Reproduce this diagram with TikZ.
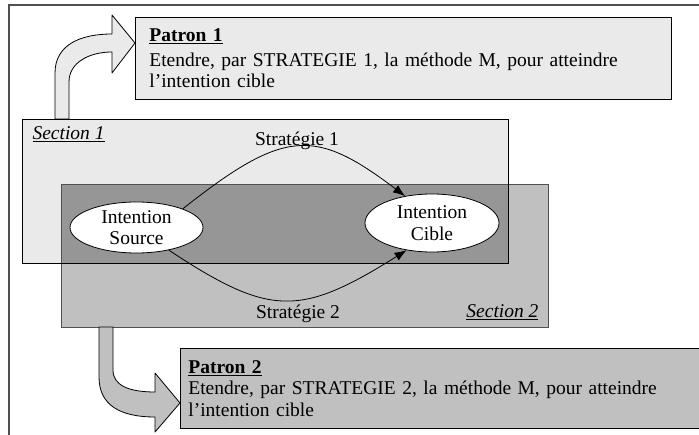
\documentclass[tikz,border=0pt]{standalone}
\usepackage{fontspec}
\setmainfont{Liberation Serif}
\usetikzlibrary{shapes.geometric,arrows.meta}

\definecolor{lightgrey}{HTML}{EAEAEA}
\definecolor{midgrey}{HTML}{C0C0C0}
\definecolor{darkgrey}{HTML}{969696}
\definecolor{framegrey}{HTML}{505050}

\begin{document}
\begin{tikzpicture}[x=1pt, y=1pt, every node/.style={font=\fontsize{19.5}{21.5}\selectfont},
    intention/.style={ellipse, draw, fill=white, line width=0.8pt, inner sep=0pt, align=center},
    patron/.style={rectangle, draw, line width=0.8pt, anchor=north west, align=left, inner ysep=0pt},
    strategie/.style={-{Latex[length=12pt,width=9pt]}, line width=0.8pt},
    bigarrow/.style={draw, line width=0.8pt, line join=round}]

        % Fix the page size and cut what hangs over the edge
        \useasboundingbox (0,0) rectangle (699,-435);
        \clip (0,0) rectangle (699,-435);

        % Page frame (top and left only)
        \draw[framegrey, line width=1.6pt] (9,-435) -- (9,-5) -- (699,-5);

        % The two patterns
        \node[patron, fill=lightgrey, minimum width=536, minimum height=82, text width=508, inner xsep=14] (pat1) at (135,-17)
            {\textbf{\underline{Patron 1}}\\[3pt]Etendre, par STRATEGIE 1, la méthode M, pour atteindre\\l’intention cible};
        \node[patron, fill=midgrey, minimum width=580, minimum height=80, text width=564, inner xsep=8] (pat2) at (180,-348)
            {\textbf{\underline{Patron 2}}\\Etendre, par STRATEGIE 2, la méthode M, pour atteindre\\l’intention cible};

        % Sections: fills first, then the overlap, then the borders
        \node[anchor=north west, fill=lightgrey, minimum width=486, minimum height=144, inner sep=0pt] (sec1) at (22,-119) {};
        \node[anchor=north west, fill=midgrey, minimum width=487, minimum height=143, inner sep=0pt] (sec2) at (61,-184) {};
        \fill[darkgrey] (sec2.north west) rectangle (sec1.south east);
        \draw[framegrey, line width=0.8pt] (sec2.north west) rectangle (sec2.south east);
        \draw[line width=0.8pt] (sec1.north west) rectangle (sec1.south east);

        \node[anchor=base west, font=\fontsize{19.5}{21.5}\selectfont\itshape] (lab1) at (29,-140) {\underline{Section 1}};
        \node[anchor=base east, font=\fontsize{19.5}{21.5}\selectfont\itshape] (lab2) at (542,-318) {\underline{Section 2}};

        % Block arrows from the sections to the patterns
        \path[bigarrow, fill=lightgrey] (55,-119) -- (55,-73) .. controls (55,-45) and (80,-34) .. (112,-34)
            -- (112,-15) -- (135,-43) -- (112,-73) -- (112,-52)
            .. controls (90,-52) and (69,-62) .. (69,-82) -- (69,-119) -- cycle;
        \path[bigarrow, fill=midgrey] (99,-327) -- (99,-377) .. controls (99,-405) and (120,-417) .. (155,-417)
            -- (155,-432) -- (180,-403) -- (155,-373) -- (155,-392)
            .. controls (128,-392) and (113,-385) .. (113,-370) -- (113,-327) -- cycle;

        % Intentions
        \node[intention, minimum width=133, minimum height=51] (src) at (136.5,-227.5) {Intention\\Source};
        \node[intention, minimum width=134, minimum height=58] (cib) at (432,-223) {Intention\\Cible};

        % Strategies
        \draw[strategie] (src.22) .. controls (285,-128) and (315,-128) .. (cib.135);
        \draw[strategie] (src.-35) .. controls (270,-317) and (300,-317) .. (cib.-133);
        \node[anchor=base] (str1) at (297,-146) {Stratégie 1};
        \node[anchor=base] (str2) at (298,-319) {Stratégie 2};

\end{tikzpicture}
\end{document}
